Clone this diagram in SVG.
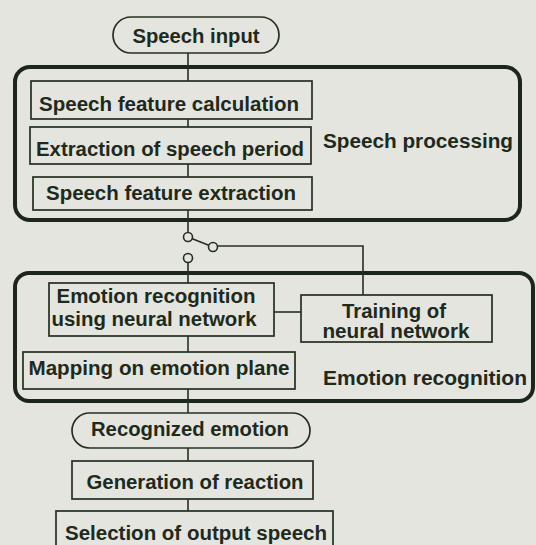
<svg xmlns="http://www.w3.org/2000/svg" width="536" height="545" viewBox="0 0 536 545">
  <style>
    .bg { fill: #e5e5df; }
    .box { fill: none; stroke: #24301f; stroke-width: 1.7; }
    .group { fill: none; stroke: #1c261b; stroke-width: 4; }
    .wire { fill: none; stroke: #24301f; stroke-width: 1.6; }
    .pin { fill: #e5e5df; stroke: #24301f; stroke-width: 1.6; }
    text { font-family: "Liberation Sans", Arial, sans-serif; font-weight: bold; font-size: 20px; fill: #1d2a1c; }
    .c { text-anchor: middle; }
  </style>
  <rect class="bg" x="0" y="0" width="536" height="545"/>

  <!-- processing stage frames -->
  <g id="speech-processing">
    <rect class="group" x="15" y="67" width="505" height="153" rx="15"/>
    <text x="323" y="148" textLength="190" lengthAdjust="spacingAndGlyphs">Speech processing</text>
  </g>
  <g id="emotion-recognition">
    <rect class="group" x="15" y="273" width="518" height="128" rx="14"/>
    <text x="323" y="385" textLength="204" lengthAdjust="spacingAndGlyphs">Emotion recognition</text>
  </g>

  <!-- connectors and switch -->
  <g id="connectors">
    <line class="wire" x1="188" y1="53" x2="188" y2="81"/>
    <line class="wire" x1="188" y1="119" x2="188" y2="127"/>
    <line class="wire" x1="188" y1="164" x2="188" y2="177"/>
    <line class="wire" x1="188" y1="210" x2="188" y2="232.5"/>
    <line class="wire" x1="192.3" y1="238.7" x2="208.7" y2="245.3"/>
    <polyline class="wire" points="217.5,246 363,246 363,295"/>
    <line class="wire" x1="188" y1="262.5" x2="188" y2="283"/>
    <line class="wire" x1="274" y1="312" x2="301" y2="312"/>
    <line class="wire" x1="188" y1="336" x2="188" y2="352"/>
    <line class="wire" x1="188" y1="389" x2="188" y2="413"/>
    <line class="wire" x1="188" y1="448" x2="188" y2="461"/>
    <line class="wire" x1="188" y1="499" x2="188" y2="511"/>
    <circle class="pin" cx="188" cy="237" r="4.5"/>
    <circle class="pin" cx="213" cy="247" r="4.5"/>
    <circle class="pin" cx="188" cy="258" r="4.5"/>
  </g>

  <g id="speech-input">
    <rect class="box" x="113" y="17" width="166" height="36" rx="18"/>
    <text class="c" x="196" y="43" textLength="127" lengthAdjust="spacingAndGlyphs">Speech input</text>
  </g>
  <g id="feature-calculation">
    <rect class="box" x="31" y="81" width="281" height="38"/>
    <text class="c" x="169" y="111" textLength="260" lengthAdjust="spacingAndGlyphs">Speech feature calculation</text>
  </g>
  <g id="period-extraction">
    <rect class="box" x="30" y="127" width="281" height="37"/>
    <text class="c" x="170" y="156" textLength="268" lengthAdjust="spacingAndGlyphs">Extraction of speech period</text>
  </g>
  <g id="feature-extraction">
    <rect class="box" x="33" y="177" width="279" height="33"/>
    <text class="c" x="171" y="200" textLength="250" lengthAdjust="spacingAndGlyphs">Speech feature extraction</text>
  </g>
  <g id="nn-recognition">
    <rect class="box" x="49" y="283" width="225" height="53"/>
    <text class="c" x="156" y="303" textLength="199" lengthAdjust="spacingAndGlyphs">Emotion recognition</text>
    <text class="c" x="154" y="326" textLength="205" lengthAdjust="spacingAndGlyphs">using neural network</text>
  </g>
  <g id="nn-training">
    <rect class="box" x="301" y="295" width="191" height="47"/>
    <text class="c" x="394" y="318" textLength="104" lengthAdjust="spacingAndGlyphs">Training of</text>
    <text class="c" x="396" y="338" textLength="147" lengthAdjust="spacingAndGlyphs">neural network</text>
  </g>
  <g id="emotion-mapping">
    <rect class="box" x="23" y="352" width="272" height="37"/>
    <text class="c" x="159" y="375" textLength="261" lengthAdjust="spacingAndGlyphs">Mapping on emotion plane</text>
  </g>
  <g id="recognized-emotion">
    <rect class="box" x="72" y="413" width="238" height="35" rx="17.5"/>
    <text class="c" x="190" y="436" textLength="198" lengthAdjust="spacingAndGlyphs">Recognized emotion</text>
  </g>
  <g id="reaction-generation">
    <rect class="box" x="72" y="461" width="241" height="38"/>
    <text class="c" x="195" y="489" textLength="217" lengthAdjust="spacingAndGlyphs">Generation of reaction</text>
  </g>
  <g id="output-selection">
    <rect class="box" x="56" y="511" width="277" height="40"/>
    <text class="c" x="196" y="540" textLength="262" lengthAdjust="spacingAndGlyphs">Selection of output speech</text>
  </g>
</svg>
